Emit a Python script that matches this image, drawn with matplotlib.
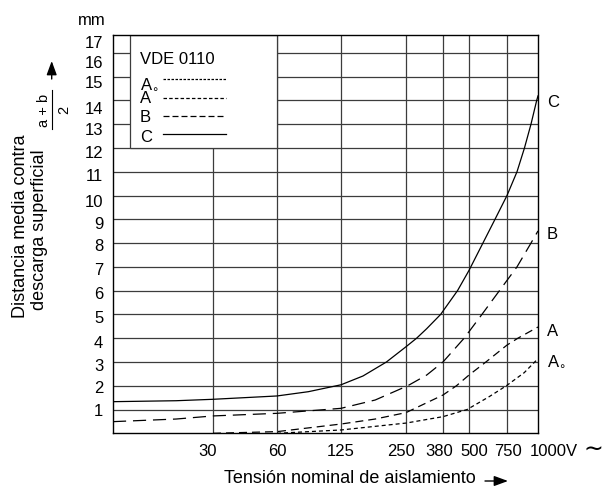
import numpy as np
import matplotlib
matplotlib.use("Agg")
import matplotlib.pyplot as plt
from matplotlib.patches import Rectangle
from matplotlib.lines import Line2D
from matplotlib.ticker import NullLocator
from matplotlib.transforms import blended_transform_factory

plt.rcParams['font.family'] = ['Liberation Sans', 'DejaVu Sans']

# curve values (voltage in V, distance in mm)
volt_c = [10, 20, 30, 60, 86, 125, 158, 203, 250, 282, 316, 370, 443, 500,
          580, 660, 750, 823, 882, 937, 988, 1000]
dist_c = [1.33, 1.37, 1.43, 1.57, 1.75, 2.04, 2.41, 3.0, 3.64, 4.0, 4.4, 5.0,
          6.0, 6.85, 8.0, 9.0, 10.0, 11.0, 12.0, 13.0, 14.0, 14.19]

volt_b = [10, 20, 30, 60, 125, 180, 255, 316, 380, 475, 574, 705, 823, 937, 1000]
dist_b = [0.49, 0.6, 0.73, 0.84, 1.05, 1.4, 2.0, 2.45, 3.0, 4.0, 5.0, 6.1, 7.0, 8.0, 8.51]

volt_a = [30, 60, 125, 180, 250, 380, 438, 500, 599, 750, 830, 1000]
dist_a = [0.0, 0.07, 0.39, 0.6, 0.87, 1.61, 2.0, 2.45, 3.0, 3.71, 4.0, 4.47]

volt_a0 = [60, 125, 250, 380, 490, 620, 745, 880, 970, 1000]
dist_a0 = [0.0, 0.14, 0.43, 0.7, 1.0, 1.54, 2.0, 2.55, 3.0, 3.13]

# axis ticks
x_ticks = [30, 60, 125, 250, 380, 500, 750]
x_labels = ['30', '60', '125', '250', '380', '500', '750']
y_grid = list(range(1, 17))
y_label_pos = [0.98, 1.95, 2.87, 3.85, 4.89, 5.9, 6.91, 7.92, 8.85, 9.79,
               10.87, 11.85, 12.8, 13.69, 14.79, 15.63, 16.47]
y_labels = [str(v) for v in range(1, 18)]

# the printed voltage axis is only roughly logarithmic: where its grid lines sit
scale_volts = [10, 30, 60, 125, 250, 380, 500, 750, 1000]
scale_pos = [0, 100, 164, 228, 293, 330, 356, 394, 425]
log_sv = np.log10(scale_volts)


def fwd(v):
    v = np.clip(np.asarray(v, dtype=float), 1e-6, None)
    return np.interp(np.log10(v), log_sv, scale_pos, left=-1e3, right=1e3)


def inv(p):
    return 10 ** np.interp(p, scale_pos, log_sv)


W, H = 605, 486
fig = plt.figure(figsize=(W / 100, H / 100), dpi=100)
ax = fig.add_axes([113 / W, 1 - 433.3 / H, 425 / W, (433.3 - 35) / H])

grid_kw = dict(color='#3c3c3c', linewidth=0.9)

ax.set_xscale('function', functions=(fwd, inv))
ax.set_xlim(10, 1000)
ax.set_ylim(0, 16.75)
ax.set_axisbelow(True)

ax.set_xticks(x_ticks, [''] * len(x_ticks))
ax.xaxis.set_minor_locator(NullLocator())
ax.grid(axis='x', which='major', **grid_kw)

ax.set_yticks(y_label_pos, y_labels)
ax.set_yticks(y_grid, minor=True)
ax.grid(axis='y', which='minor', **grid_kw)
ax.grid(axis='y', which='major', visible=False)

ax.tick_params(axis='x', which='both', length=0)
ax.tick_params(axis='y', which='both', length=0, pad=7, labelsize=12)
for s in ax.spines.values():
    s.set_color('black')
    s.set_linewidth(1.0)

# x labels, nudged as printed
x_label_shift = [-5, 0, 0, -5, -4, 5, 1]
for v, lab, dx in zip(x_ticks, x_labels, x_label_shift):
    ax.annotate(lab, xy=(v, 0), xycoords='data', xytext=(dx, -10.4),
                textcoords='offset pixels', ha='center', va='top', fontsize=12)
ax.annotate('1000V', xy=(1000, 0), xycoords='data', xytext=(-8, -10.4),
            textcoords='offset pixels', ha='left', va='top', fontsize=12)
fig.text(593 / W, 1 - 450 / H, '\u223c', family='DejaVu Sans', fontsize=17,
         ha='center', va='center')

# curves
lw = 0.9
ax.plot(volt_c, dist_c, color='black', lw=lw)
ax.plot(volt_b, dist_b, color='black', lw=lw, dashes=(10.5, 5.5))
ax.plot(volt_a, dist_a, color='black', lw=lw, dashes=(6.4, 4))
ax.plot(volt_a0, dist_a0, color='black', lw=lw, dashes=(3.2, 2.4))

# legend box
ax.add_patch(Rectangle((12, 12), 60 - 12, 16.75 - 12, facecolor='white',
                       edgecolor='#3c3c3c', lw=0.9, zorder=1.5))
trans = blended_transform_factory(ax.transAxes, ax.transData)
ax.text(0.0635, 15.7, 'VDE 0110', transform=trans, va='center', fontsize=12)
leg_names = ['A$_{\\circ}$', 'A', 'B', 'C']
leg_text_y = [14.72, 14.06, 13.28, 12.44]
leg_line_y = [14.92, 14.1, 13.35, 12.6]
leg_dashes = [(2.0, 1.2), (2.8, 1.75), (4.8, 2.4), None]
for name, ty, ly, ds in zip(leg_names, leg_text_y, leg_line_y, leg_dashes):
    ax.text(0.0635, ty, name, transform=trans, va='center', fontsize=12)
    ln, = ax.plot([0.1176, 0.266], [ly, ly], transform=trans, color='black', lw=lw)
    if ds is not None:
        ln.set_dashes(ds)

# curve names at the right
end_names = ['C', 'B', 'A', 'A$_{\\circ}$']
end_y = [13.93, 8.34, 4.3, 3.05]
for name, y in zip(end_names, end_y):
    ax.text(1.021, y, name, transform=trans, va='center', fontsize=12)

# axis titles
fig.text(92 / W, 1 - 20.5 / H, 'mm', ha='center', va='center', fontsize=12)
fig.text(350 / W, 1 - 478 / H, 'Tensión nominal de aislamiento',
         ha='center', va='center', fontsize=13)
fig.text(21 / W, 1 - 226.5 / H, 'Distancia media contra', rotation=90,
         ha='center', va='center', fontsize=13)
fig.text(40 / W, 1 - 230 / H, 'descarga superficial', rotation=90,
         ha='center', va='center', fontsize=13)
fig.text(44 / W, 1 - 110 / H, 'a + b', rotation=90, ha='center', va='center', fontsize=10.5)
fig.text(64.5 / W, 1 - 110 / H, '2', rotation=90, ha='center', va='center', fontsize=10.5)
fig.add_artist(Line2D([51.7 / W, 51.7 / W], [1 - 90 / H, 1 - 129 / H],
                      color='black', lw=0.8, transform=fig.transFigure))

arrow = dict(arrowstyle='-|>,head_length=0.6,head_width=0.22', color='black',
             lw=1, mutation_scale=14, shrinkA=0, shrinkB=0)
ax.annotate('', xy=(51.7, H - 61), xytext=(51.7, H - 79), xycoords='figure pixels',
            textcoords='figure pixels', arrowprops=arrow)
ax.annotate('', xy=(508, H - 481), xytext=(485, H - 481), xycoords='figure pixels',
            textcoords='figure pixels', arrowprops=arrow)

fig.savefig('out.png', dpi=100)
